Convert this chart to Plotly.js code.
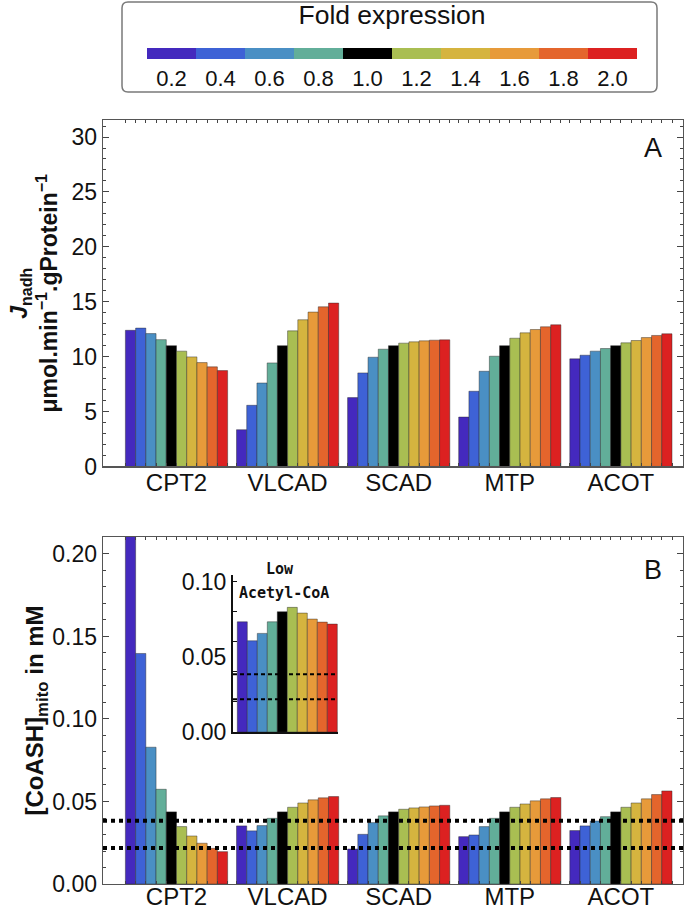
<!DOCTYPE html>
<html><head><meta charset="utf-8">
<script src="https://cdn.plot.ly/plotly-3.0.1.min.js"></script>
<style>html,body{margin:0;padding:0;background:#fff}#chart{width:685px;height:910px}</style>
</head><body><div id="chart"></div>
<script>
// ---- categories & legend ----
const genes = ['CPT2', 'VLCAD', 'SCAD', 'MTP', 'ACOT'];
const folds = [0.2, 0.4, 0.6, 0.8, 1.0, 1.2, 1.4, 1.6, 1.8, 2.0];
const foldLabels = ['0.2', '0.4', '0.6', '0.8', '1.0', '1.2', '1.4', '1.6', '1.8', '2.0'];
const foldColors = ['#4429BE', '#3E62D6', '#4A8FC4', '#62AE99', '#000000',
                    '#A9BE52', '#D5B43F', '#E79A3A', '#E4652C', '#DC2121'];

// ---- Panel A: J_nadh (umol/min/gProtein) per fold level ----
const jnadhCPT2  = [12.4, 12.6, 12.1, 11.55, 11.0, 10.5, 9.98, 9.46, 9.07, 8.73];
const jnadhVLCAD = [3.35, 5.57, 7.6, 9.43, 11.0, 12.35, 13.36, 14.06, 14.54, 14.88];
const jnadhSCAD  = [6.27, 8.52, 9.95, 10.68, 11.0, 11.23, 11.35, 11.44, 11.5, 11.53];
const jnadhMTP   = [4.5, 6.85, 8.67, 10.04, 11.0, 11.68, 12.17, 12.47, 12.72, 12.9];
const jnadhACOT  = [9.8, 10.13, 10.5, 10.74, 11.0, 11.26, 11.47, 11.74, 11.93, 12.08];

// ---- Panel B: [CoASH]mito (mM) per fold level ----
const coashCPT2  = [0.26, 0.1397, 0.0829, 0.0574, 0.0437, 0.0348, 0.0291, 0.0247, 0.0216, 0.0196];
const coashVLCAD = [0.0352, 0.0322, 0.0354, 0.0398, 0.0437, 0.0465, 0.0491, 0.051, 0.0522, 0.053];
const coashSCAD  = [0.0212, 0.0301, 0.0372, 0.0413, 0.0437, 0.0453, 0.0461, 0.0467, 0.0473, 0.0477];
const coashMTP   = [0.0287, 0.0297, 0.0348, 0.0398, 0.0437, 0.0465, 0.0485, 0.0504, 0.0516, 0.0524];
const coashACOT  = [0.0324, 0.0352, 0.0382, 0.0408, 0.0437, 0.0465, 0.0491, 0.0516, 0.0542, 0.0564];
const coashThresholds = [0.0218, 0.0384];

// ---- Inset: Low Acetyl-CoA ----
const insetCoash = [0.0732, 0.0606, 0.0655, 0.0732, 0.0799, 0.0828, 0.079, 0.075, 0.073, 0.0717];

const FONT = '"Liberation Sans", Arial, Helvetica, sans-serif';
const MONO = '"DejaVu Sans Mono", monospace';
const jnadh = [jnadhCPT2, jnadhVLCAD, jnadhSCAD, jnadhMTP, jnadhACOT];
const coash = [coashCPT2, coashVLCAD, coashSCAD, coashMTP, coashACOT];
const genePos = genes.map((g, i) => i);
const barLine = {color: 'rgba(40,40,40,0.55)', width: 0.8};

// pixel -> paper helpers (plot area: x 103..683, y 120..884)
const px = v => (v - 103) / 580;
const py = v => (884 - v) / 764;

const traces = [];
folds.forEach((f, k) => {
  traces.push({type: 'bar', name: foldLabels[k], x: genePos, y: jnadh.map(a => a[k]),
    xaxis: 'x', yaxis: 'y', marker: {color: foldColors[k], line: barLine},
    showlegend: false, hoverinfo: 'x+y'});
});
folds.forEach((f, k) => {
  traces.push({type: 'bar', name: foldLabels[k], x: genePos, y: coash.map(a => a[k]),
    xaxis: 'x2', yaxis: 'y2', marker: {color: foldColors[k], line: barLine},
    showlegend: false, hoverinfo: 'x+y'});
});
const discreteScale = [];
foldColors.forEach((c, k) => { discreteScale.push([k / 10, c]); discreteScale.push([(k + 1) / 10, c]); });
traces.push({type: 'bar', x: folds, y: insetCoash, width: 0.2, xaxis: 'x3', yaxis: 'y3',
  showlegend: false,
  marker: {color: folds, colorscale: discreteScale, cmin: 0.1, cmax: 2.1, line: barLine,
    showscale: true,
    colorbar: {orientation: 'h', x: px(392), xanchor: 'center', y: py(10), yanchor: 'top',
      len: 490, lenmode: 'pixels', thickness: 11, thicknessmode: 'pixels',
      title: {text: 'Fold expression', side: 'top', font: {size: 26.5, color: '#111', family: FONT}},
      tickmode: 'array', tickvals: folds, ticktext: foldLabels, ticks: '', ticklen: 0,
      tickfont: {size: 22, color: '#111', family: FONT},
      outlinewidth: 0, borderwidth: 0, bgcolor: 'rgba(0,0,0,0)',
      xpad: 0, ypad: 8}}});

// small frame ticks at bar edges
const edgeTicks = [];
genePos.forEach(i => { for (let k = 0; k <= 10; k++) edgeTicks.push(i - 0.46 + 0.092 * k); });

const frameX = (dom, anchor, standoff) => ({
  domain: dom, anchor: anchor, range: [-0.6616, 4.559], tickmode: 'array',
  tickvals: genePos, ticktext: genes, ticks: '', showline: true, mirror: 'ticks',
  linecolor: '#555', linewidth: 1.3, showgrid: false, zeroline: false, ticklabelstandoff: standoff,
  tickfont: {size: 24, color: '#111', family: FONT},
  minor: {tickmode: 'array', tickvals: edgeTicks, ticks: 'inside', ticklen: 3, tickcolor: '#444', tickwidth: 1, showgrid: false}
});

// rounded legend frame
const bx0 = px(122), bx1 = px(657), by0 = py(92), by1 = py(2), rx = 6 / 580, ry = 6 / 764;
const legendFrame = `M ${bx0 + rx},${by1} L ${bx1 - rx},${by1} Q ${bx1},${by1} ${bx1},${by1 - ry} ` +
  `L ${bx1},${by0 + ry} Q ${bx1},${by0} ${bx1 - rx},${by0} L ${bx0 + rx},${by0} Q ${bx0},${by0} ${bx0},${by0 + ry} ` +
  `L ${bx0},${by1 - ry} Q ${bx0},${by1} ${bx0 + rx},${by1} Z`;

const layout = {
  width: 685, height: 910, paper_bgcolor: '#fff', plot_bgcolor: '#fff',
  margin: {l: 103, r: 2, t: 120, b: 26, autoexpand: false},
  font: {family: FONT, color: '#111'},
  barmode: 'group', bargap: 0.08, bargroupgap: 0,
  xaxis: frameX([0, 1], 'y', -6),
  xaxis2: frameX([0, 1], 'y2', -9),
  yaxis: {domain: [0.5465, 1], anchor: 'x', range: [0, 31.55], tick0: 0, dtick: 5,
    ticks: 'inside', ticklen: 6, tickcolor: '#444', showline: true, mirror: 'ticks',
    linecolor: '#555', linewidth: 1.3, showgrid: false, zeroline: false,
    tickfont: {size: 23, color: '#111', family: FONT},
    minor: {dtick: 1, ticks: 'inside', ticklen: 3, tickcolor: '#444', showgrid: false},
    title: {text: '<i>J</i><sub>nadh</sub><br>μmol.min<sup>−1</sup>.gProtein<sup>−1</sup>',
      font: {size: 23, color: '#111', family: FONT, weight: 'bold'}, standoff: 7}},
  yaxis2: {domain: [0, 0.4542], anchor: 'x2', range: [0, 0.2103], tick0: 0, dtick: 0.05, tickformat: '.2f',
    ticks: 'inside', ticklen: 6, tickcolor: '#444', showline: true, mirror: 'ticks',
    linecolor: '#555', linewidth: 1.3, showgrid: false, zeroline: false,
    tickfont: {size: 23, color: '#111', family: FONT},
    minor: {dtick: 0.01, ticks: 'inside', ticklen: 3, tickcolor: '#444', showgrid: false},
    title: {text: '[CoASH]<sub>mito</sub> in mM',
      font: {size: 24, color: '#111', family: FONT, weight: 'bold'}, standoff: 1}},
  xaxis3: {domain: [px(233), px(338)], anchor: 'y3', range: [0.014, 2.114],
    showticklabels: false, ticks: '', showline: true, linecolor: '#111', linewidth: 2,
    showgrid: false, zeroline: false},
  yaxis3: {domain: [py(732), py(575)], anchor: 'x3', range: [0, 0.1043],
    tickmode: 'array', tickvals: [0, 0.05, 0.10], tickformat: '.2f', ticks: '',
    showline: true, linecolor: '#111', linewidth: 2, showgrid: false, zeroline: false,
    tickfont: {size: 23, color: '#111', family: FONT},
    minor: {tickmode: 'array', tickvals: [0.02, 0.04, 0.06, 0.08, 0.10], ticks: 'inside', ticklen: 4, tickcolor: '#111', showgrid: false}},
  shapes: [
    {type: 'path', xref: 'paper', yref: 'paper', path: legendFrame, line: {color: '#7a7a7a', width: 1.5}, fillcolor: 'rgba(0,0,0,0)', layer: 'below'},
    ...coashThresholds.map(t => ({type: 'line', xref: 'x2 domain', x0: 0, x1: 1, yref: 'y2', y0: t, y1: t,
      line: {color: '#000', width: 4, dash: 'dot'}})),
    ...coashThresholds.map(t => ({type: 'line', xref: 'x3 domain', x0: 0, x1: 1, yref: 'y3', y0: t, y1: t,
      line: {color: '#000', width: 2, dash: '4px,3px'}}))
  ],
  annotations: [
    {text: 'A', xref: 'x domain', yref: 'y domain', x: 0.948, y: 0.919, showarrow: false,
      xanchor: 'center', yanchor: 'middle', font: {size: 27, color: '#111', family: FONT}},
    {text: 'B', xref: 'x2 domain', yref: 'y2 domain', x: 0.948, y: 0.905, showarrow: false,
      xanchor: 'center', yanchor: 'middle', font: {size: 27, color: '#111', family: FONT}},
    {text: 'Low', xref: 'x3 domain', yref: 'y3 domain', x: 0.448, y: 1.038, showarrow: false,
      xanchor: 'center', yanchor: 'middle', font: {size: 15, color: '#111', family: MONO, weight: 'bold'}},
    {text: 'Acetyl-CoA', xref: 'x3 domain', yref: 'y3 domain', x: 0.486, y: 0.885, showarrow: false,
      xanchor: 'center', yanchor: 'middle', font: {size: 15, color: '#111', family: MONO, weight: 'bold'}}
  ]
};

Plotly.newPlot('chart', traces, layout, {displayModeBar: false, staticPlot: true});
</script>
</body></html>
